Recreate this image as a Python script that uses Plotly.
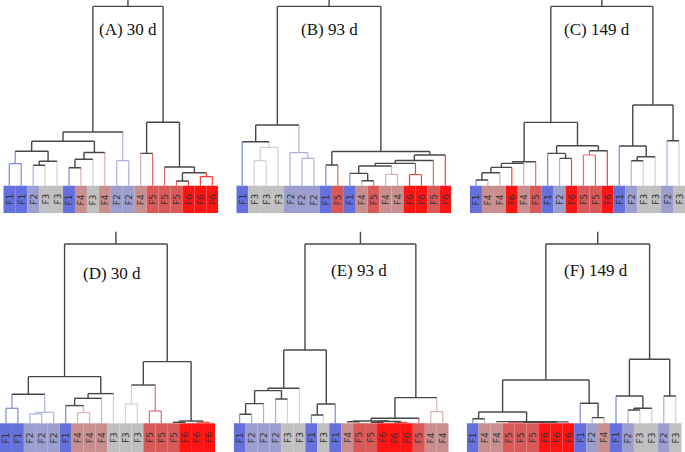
import plotly.graph_objects as go

# ---------------- data ----------------
GROUP_FILL = {"F1": "#6470dc", "F2": "#9b9ecf", "F3": "#c0c0c0",
              "F4": "#c98f8f", "F5": "#d95858", "F6": "#ff1414"}
GROUP_BRANCH = {"F1": "#7c88e4", "F2": "#aeb1dc", "F3": "#d2d2d2",
                "F4": "#dcb0b0", "F5": "#e46a6a", "F6": "#ff3a3a"}
MIXED = "#474747"

titles = ["(A) 30 d", "(B) 93 d", "(C) 149 d", "(D) 30 d", "(E) 93 d", "(F) 149 d"]

labels_A = ["F1", "F1", "F2", "F3", "F3", "F1", "F4", "F3", "F4", "F2", "F2", "F4", "F5", "F5", "F5", "F6", "F6", "F6"]
labels_B = ["F1", "F3", "F3", "F3", "F2", "F2", "F2", "F1", "F5", "F1", "F4", "F5", "F4", "F4", "F6", "F6", "F5", "F6"]
labels_C = ["F1", "F4", "F4", "F6", "F4", "F5", "F1", "F2", "F6", "F5", "F5", "F6", "F1", "F2", "F3", "F3", "F2", "F3"]
labels_D = ["F1", "F1", "F2", "F2", "F2", "F1", "F4", "F4", "F4", "F3", "F3", "F3", "F5", "F5", "F5", "F6", "F6", "F6"]
labels_E = ["F1", "F2", "F2", "F2", "F3", "F3", "F1", "F3", "F1", "F4", "F5", "F5", "F6", "F6", "F6", "F5", "F4", "F4"]
labels_F = ["F1", "F4", "F4", "F5", "F5", "F5", "F6", "F6", "F6", "F1", "F2", "F4", "F1", "F2", "F3", "F3", "F2", "F3"]

# merge trees: (left, right, height); ints are leaf indices
tree_A = ((((((0, 1, 22.0), ((2, 3, 20.5), 4, 24.5), 34.5),
             ((((5, 6, 18.0), 7, 26.5), 8, 33.2)), 44.5),
            (9, 10, 25.0), 53.7),
           ((11, 12, 32.3), (13, ((14, 15, 4.7), (16, 17, 9.0), 13.0), 18.7), 63.5),
           179.3))
tree_B = (((0, ((1, 2, 25.0), 3, 38.3), 44.0), (4, (5, 6, 27.3), 33.0), 60.7),
          ((7, 8, 20.7),
           (((((9, (10, 11, 5.0), 12.3), (12, 13, 11.3), 19.7), (14, 15, 11.2), 22.3), 16, 25.2), 17, 30.7),
           34.2),
          179.3)
tree_C = ((((((((0, 1, 5.7), 2, 13.0), 3, 18.3), 4, 22.3), 5, 24.0)),
           ((6, (7, 8, 27.3), 32.3), ((9, 10, 30.7), 11, 35.0), 40.0), 63.3),
          ((12, ((13, 14, 25.0), 15, 29.0), 39.7), (16, 17, 45.0), 80.7),
          179.3)
tree_D = ((((0, 1, 15.0), ((2, 3, 9.3), 4, 11.0), 29.0),
           ((((5, (6, 7, 10.7), 17.7), 8, 25.0), 9, 29.7)), 46.7),
          (((10, 11, 19.3), (12, 13, 12.3), 38.3), ((14, 15, 1.0), (16, 17, 1.0), 2.3), 61.7),
          179.3)
tree_E = ((((((0, 1, 9.0), 2, 19.7), (3, 4, 24.3), 32.7), 5, 35.0), ((6, 7, 8.3), 8, 19.3), 73.3),
          (((((9, 10, 1.5), ((11, 12, 1.0), (13, 14, 1.0), 1.8), 2.3), 15, 5.0)), (16, 17, 11.7), 25.7),
          179.3)
tree_F = (((((0, 1, 4.5), (2, (((((3, 4, 0.6), 5, 0.8), 6, 1.0), 7, 1.2), 8, 1.4), 1.7), 11.3),
            (9, (10, 11, 5.7), 20.0), 43.3)),
          ((12, ((13, 14, 13.3), 15, 15.0), 27.3), (16, 17, 27.3), 64.0),
          179.3)

all_labels = [labels_A, labels_B, labels_C, labels_D, labels_E, labels_F]
all_trees = [tree_A, tree_B, tree_C, tree_D, tree_E, tree_F]

# ---------------- layout geometry (pixels) ----------------
W, H = 685, 452
# strip left/right in px, strip top px, panel top px, panel bottom px
panels_px = [
    (3.3, 218.3, 185.7, 0.0, 213.3),
    (236.3, 451.3, 185.7, 0.0, 213.3),
    (470.0, 685.0, 185.7, 0.0, 213.3),
    (0.0, 215.0, 423.3, 225.0, 452.0),
    (233.7, 448.7, 423.3, 225.0, 452.0),
    (466.7, 681.7, 423.3, 225.0, 452.0),
]
title_px = [(127.5, 30.0), (329.3, 30.0), (596.7, 30.0),
            (112.2, 273.3), (359.3, 270.7), (596.0, 270.0)]
STEM = 12.3


def branch_color(groups):
    if len(groups) == 1:
        return GROUP_BRANCH[next(iter(groups))]
    return MIXED


def walk(node, labels, segs):
    if isinstance(node, int):
        return float(node), 0.0, {labels[node]}
    left, right, h = node
    xl, hl, gl = walk(left, labels, segs)
    xr, hr, gr = walk(right, labels, segs)
    g = gl | gr
    segs.append((branch_color(gl), [xl, xl], [hl, h]))
    segs.append((branch_color(gr), [xr, xr], [hr, h]))
    segs.append((branch_color(g), [xl, xr], [h, h]))
    return (xl + xr) / 2.0, h, g


fig = go.Figure()
annotations = []
layout_axes = {}

for i, (labels, tree) in enumerate(zip(all_labels, all_trees)):
    n = len(labels)
    xl_px, xr_px, strip_top, top_px, bot_px = panels_px[i]
    ax = "" if i == 0 else str(i + 1)
    xref, yref = "x" + ax, "y" + ax
    strip_h = bot_px - strip_top
    # strip cells
    fig.add_trace(go.Bar(
        x=list(range(n)), y=[strip_h] * n, base=-strip_h, width=1.0,
        marker=dict(color=[GROUP_FILL[l] for l in labels], line=dict(width=0)),
        xaxis=xref, yaxis=yref, showlegend=False, hoverinfo="skip"))
    # dendrogram
    segs = []
    rx, rh, _ = walk(tree, labels, segs)
    segs.append((MIXED, [rx, rx], [rh, rh + STEM]))
    by_col = {}
    for col, xs, ys in segs:
        d = by_col.setdefault(col, ([], []))
        d[0].extend(xs + [None])
        d[1].extend(ys + [None])
    order = sorted(by_col.keys(), key=lambda c: c == MIXED)
    for col in order:
        xs, ys = by_col[col]
        fig.add_trace(go.Scatter(
            x=xs, y=ys, mode="lines",
            line=dict(color=col, width=1.4 if col == MIXED else 1.2),
            xaxis=xref, yaxis=yref, showlegend=False, hoverinfo="skip"))
    # labels in strip
    for j, l in enumerate(labels):
        annotations.append(dict(
            x=j, y=-strip_h / 2.0, xref=xref, yref=yref, text=l, textangle=-90,
            showarrow=False, font=dict(family="DejaVu Sans", size=9, color="#333333")))
    # title
    tx, ty = title_px[i]
    annotations.append(dict(
        x=tx / W, y=1 - ty / H, xref="paper", yref="paper", text=titles[i],
        showarrow=False, xanchor="center", yanchor="middle",
        font=dict(family="Liberation Serif", size=17, color="#111111")))
    # axes
    layout_axes["xaxis" + ax] = dict(domain=[xl_px / W, xr_px / W], range=[-0.5, n - 0.5],
                                     visible=False, fixedrange=True)
    layout_axes["yaxis" + ax] = dict(domain=[1 - bot_px / H, 1 - top_px / H],
                                     range=[-strip_h, strip_top - top_px],
                                     visible=False, fixedrange=True)

fig.update_layout(
    width=W, height=H, margin=dict(l=0, r=0, t=0, b=0),
    paper_bgcolor="white", plot_bgcolor="white",
    annotations=annotations, showlegend=False, **layout_axes)

fig.write_html(
    "out.html",
    config={"displayModeBar": False},
    post_script="document.body.style.margin='0px';document.body.style.overflow='hidden';",
)
